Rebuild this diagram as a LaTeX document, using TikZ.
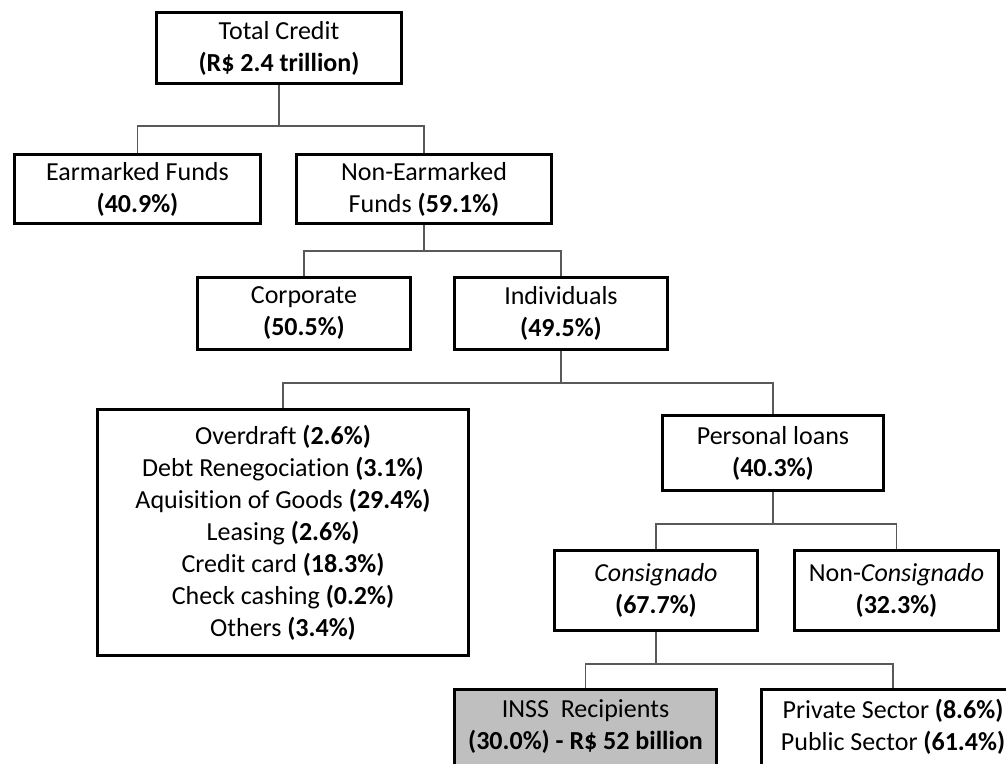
\documentclass[tikz,border=0pt]{standalone}
\usepackage{fontspec}
\setmainfont{Carlito}[Ligatures=NoCommon]
\usetikzlibrary{positioning}

\tikzset{
  box/.style={rectangle, draw, line width=3pt, fill=white, align=center, inner sep=0pt,
    font=\fontsize{26}{32}\selectfont},
  link/.style={draw=black!65, line width=1.5pt},
}

\begin{document}
\begin{tikzpicture}[node distance=141pt]
      \path [use as bounding box, clip] (-279pt,48pt) rectangle (727pt,-715pt);
      \node (total) [box, minimum width=245pt, minimum height=71pt] {Total Credit\\\textbf{(R\$ 2.4 trillion)}};
      \node (earm) [box, below of=total, xshift=-141.5pt, minimum width=246pt, minimum height=69pt] {Earmarked Funds\\\textbf{(40.9\%)}};
      \node (nonearm) [box, right of=earm, node distance=286.5pt, minimum width=255pt, minimum height=69pt] {Non-Earmarked\\Funds \textbf{(59.1\%)}};
      \node (corp) [box, below of=nonearm, node distance=124.5pt, xshift=-120pt, minimum width=213pt, minimum height=72pt] {Corporate\\\textbf{(50.5\%)}};
      \node (indiv) [box, right of=corp, node distance=257pt, minimum width=213pt, minimum height=72pt] {Individuals\\\textbf{(49.5\%)}};
      \node (other) [box, below of=corp, node distance=219pt, xshift=-21pt, minimum width=371pt, minimum height=246pt]
        {Overdraft \textbf{(2.6\%)}\\Debt Renegociation \textbf{(3.1\%)}\\Aquisition of Goods \textbf{(29.4\%)}\\Leasing \textbf{(2.6\%)}\\Credit card \textbf{(18.3\%)}\\Check cashing \textbf{(0.2\%)}\\Others \textbf{(3.4\%)}};
      \node (ploans) [box, below of=indiv, node distance=139.5pt, xshift=212pt, minimum width=221pt, minimum height=75pt] {Personal loans\\\textbf{(40.3\%)}};
      \node (consig) [box, below of=ploans, node distance=137.5pt, xshift=-117pt, minimum width=203pt, minimum height=80pt] {\textit{Consignado}\\\textbf{(67.7\%)}};
      \node (noncons) [box, right of=consig, node distance=240.5pt, minimum width=204pt, minimum height=80pt] {Non-\textit{Consignado}\\\textbf{(32.3\%)}};
      \node (inss) [box, fill=gray!50, below of=consig, node distance=136.5pt, xshift=-70.5pt, minimum width=262pt, minimum height=76pt] {INSS\ \ Recipients\\\textbf{(30.0\%) - R\$ 52 billion}};
      \node (priv) [box, right of=inss, node distance=307.5pt, minimum width=263pt, minimum height=76pt] {Private Sector \textbf{(8.6\%)}\\Public Sector \textbf{(61.4\%)}};
      \draw [link] (total.south) -- ++(0,-41pt) -| (earm.north);
      \draw [link] (total.south) -- ++(0,-41pt) -| (nonearm.north);
      \draw [link] (nonearm.south) -- ++(0,-26pt) -| (corp.north);
      \draw [link] (nonearm.south) -- ++(0,-26pt) -| (indiv.north);
      \draw [link] (indiv.south) -- ++(0,-32pt) -| (other.north);
      \draw [link] (indiv.south) -- ++(0,-32pt) -| (ploans.north);
      \draw [link] (ploans.south) -- ++(0,-32pt) -| (consig.north);
      \draw [link] (ploans.south) -- ++(0,-32pt) -| (noncons.north);
      \draw [link] (consig.south) -- ++(0,-32pt) -| (inss.north);
      \draw [link] (consig.south) -- ++(0,-32pt) -| (priv.north);
  \end{tikzpicture}
\end{document}
